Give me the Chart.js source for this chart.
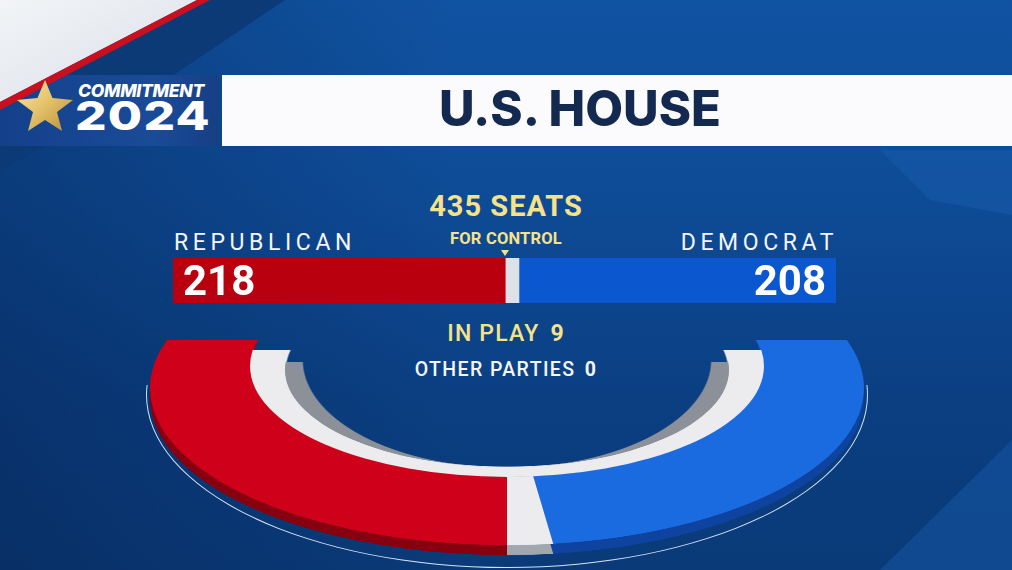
<!DOCTYPE html>
<html>
<head>
<meta charset="utf-8">
<script src="https://cdn.jsdelivr.net/npm/chart.js@4.4.1/dist/chart.umd.min.js"></script>
<style>
  html, body { margin: 0; padding: 0; }
  body {
    width: 1012px; height: 570px; overflow: hidden; position: relative;
    font-family: Roboto, "Open Sans", sans-serif;
    background:
      linear-gradient(90deg, rgba(4, 28, 70, 0.35) 0%, rgba(4, 28, 70, 0) 45%),
      linear-gradient(180deg, #1053a2 0%, #0e4b96 35%, #0b3f82 70%, #0a3a78 100%);
  }
  .abs { position: absolute; }
  .clip { position: absolute; left: 0; width: 1012px; overflow: hidden; }
  .txt { position: absolute; line-height: 1; white-space: nowrap; }
  .ell { position: absolute; border-radius: 50%; box-sizing: border-box; }
  canvas.ring { position: absolute; left: 150px; transform-origin: 50% 50%; }
</style>
</head>
<body>

<!-- background decoration -->
<svg class="abs" style="left:0;top:0" width="1012" height="570">
  <polygon points="880,150 1012,150 1012,215 930,200" fill="#1a5fb0" opacity="0.45"/>
  <polygon points="1012,440 1012,570 880,570" fill="#1557a6" opacity="0.5"/>
  <polygon points="209,0 285,0 160,84 0,170 0,109" fill="#0c3a76"/>
</svg>

<!-- header -->
<div class="abs" style="left:0;top:75px;width:219px;height:71px;background:linear-gradient(90deg,#14408a,#1a4b98 70%,#163f84)"></div>
<div class="abs" style="left:222px;top:75px;width:790px;height:71px;background:#fbfbfd"></div>
<svg class="abs" style="left:0;top:0" width="260" height="150">
  <defs>
    <linearGradient id="tw" x1="0" y1="0" x2="1" y2="1">
      <stop offset="0" stop-color="#f2f4f7"/>
      <stop offset="1" stop-color="#d9dfe7"/>
    </linearGradient>
    <linearGradient id="gold" x1="0" y1="0" x2="1" y2="1">
      <stop offset="0" stop-color="#fbe9ad"/>
      <stop offset="0.5" stop-color="#e3c06a"/>
      <stop offset="1" stop-color="#b98d34"/>
    </linearGradient>
  </defs>
  <polygon points="0,0 197,0 0,102" fill="url(#tw)"/>
  <polygon points="197,0 210,0 0,110 0,102" fill="#c8101e"/>
  <polygon points="45,80 52.5,98 73,100 57,112 62,131 45,120 28,131 33,112 17,100 37.5,98" fill="url(#gold)"/>
</svg>
<div class="txt" style="left:78px;top:82px;font-family:Inter;font-weight:800;font-style:italic;font-size:17.5px;color:#fff;letter-spacing:-0.3px">COMMITMENT</div>
<div class="txt" style="left:75px;top:96px;font-family:Inter;font-weight:800;font-size:40px;color:#fff;letter-spacing:1px;transform:scaleX(1.24);transform-origin:0 0">2024</div>
<div class="txt" style="left:222px;width:716px;text-align:center;top:84px;font-family:Inter;font-weight:800;font-size:49px;color:#14294f">U.S. HOUSE</div>

<!-- seat bar -->
<div class="txt" id="seatsTitle" style="left:0;width:1012px;text-align:center;top:192px;font-weight:700;font-size:29px;color:#f5e28a;letter-spacing:1px"></div>
<div class="txt" style="left:0;width:1012px;text-align:center;top:231px;font-weight:700;font-size:16.5px;color:#f5e28a;letter-spacing:0.2px">FOR CONTROL</div>
<div class="txt" id="repName" style="left:174px;top:231px;font-size:23px;color:#f4f6fb;letter-spacing:4.6px"></div>
<div class="txt" id="demName" style="right:174px;top:231px;font-size:23px;color:#f4f6fb;letter-spacing:4.6px"></div>
<canvas id="bar" class="abs" width="663" height="45" style="left:173px;top:258px"></canvas>
<div id="marker" class="abs" style="top:250px;width:0;height:0;border-left:4px solid transparent;border-right:4px solid transparent;border-top:6px solid #f5e28a"></div>
<div class="txt" id="repVal" style="left:183px;top:260px;font-weight:700;font-size:42px;color:#fff"></div>
<div class="txt" id="demVal" style="right:186px;top:260px;font-weight:700;font-size:42px;color:#fff"></div>

<div class="txt" style="left:0;width:1012px;text-align:center;top:322px;font-weight:500;font-size:23px;color:#f5e28a;letter-spacing:1.2px">IN PLAY <b id="playVal" style="font-weight:700;margin-left:4px"></b></div>
<div class="txt" style="left:0;width:1012px;text-align:center;top:360px;font-weight:500;font-size:19.5px;color:#f4f6fb;letter-spacing:1.4px">OTHER PARTIES <b id="otherVal" style="font-weight:700;margin-left:3px"></b></div>

<!-- half ring -->
<div class="clip" style="top:385px;height:185px">
  <div class="ell" style="left:146px;top:-163px;width:722px;height:346px;border:1.6px solid #d3e2f6"></div>
</div>
<div class="clip" id="wallClip" style="top:345px;height:225px">
  <canvas id="wall" class="ring" width="714" height="714" style="top:-304px;transform:scaleY(0.44)"></canvas>
</div>
<div class="clip" id="faceClip" style="top:340px;height:230px">
  <canvas id="face" class="ring" width="714" height="714" style="top:-309px;transform:scaleY(0.44)"></canvas>
</div>
<div class="clip" id="whiteClip" style="top:350px;height:220px">
  <div class="ell" style="left:250px;top:-95px;width:514px;height:222px;background:#ececef"></div>
</div>
<div class="clip" id="grayClip" style="top:362px;height:208px">
  <div class="ell" style="left:285px;top:-89px;width:444px;height:194px;background:#8c9199"></div>
</div>

<script>
// seat counts
const parties = ['REPUBLICAN', 'IN PLAY', 'DEMOCRAT'];
const seats = [218, 9, 208];
const totalSeats = 435;
const majority = 218;
const otherParties = 0;

const barColors = ['#b8000f', '#dde2e9', '#0a57cf'];
const faceColors = ['#cf0019', '#ececef', '#1b6be0'];
const wallColors = ['#86000f', '#a2a6ad', '#0e44a0'];

// text
document.getElementById('seatsTitle').textContent = totalSeats + ' SEATS';
document.getElementById('repName').textContent = parties[0];
document.getElementById('demName').textContent = parties[2];
document.getElementById('repVal').textContent = seats[0];
document.getElementById('demVal').textContent = seats[2];
document.getElementById('playVal').textContent = seats[1];
document.getElementById('otherVal').textContent = otherParties;

// masks so each ring layer keeps its hole
function ellMask(el, rx, ry, cx, cy) {
  const m = `radial-gradient(${rx}px ${ry}px at ${cx}px ${cy}px, transparent 99.2%, #000 100%)`;
  el.style.webkitMaskImage = m;
  el.style.maskImage = m;
}
ellMask(document.getElementById('faceClip'), 257, 111, 507, 366 - 340);
ellMask(document.getElementById('wallClip'), 257, 111, 507, 366 - 345);
ellMask(document.getElementById('whiteClip'), 222, 97, 507, 370 - 350);
ellMask(document.getElementById('grayClip'), 205, 108, 507, 360 - 362);

const noPlugins = { legend: { display: false }, tooltip: { enabled: false } };

// horizontal stacked bar
const barChart = new Chart(document.getElementById('bar'), {
  type: 'bar',
  data: {
    labels: ['House'],
    datasets: parties.map((p, i) => ({
      label: p,
      data: [seats[i]],
      backgroundColor: barColors[i],
      borderWidth: 0,
      barPercentage: 1,
      categoryPercentage: 1
    }))
  },
  options: {
    indexAxis: 'y',
    responsive: false,
    animation: false,
    layout: { padding: 0 },
    scales: {
      x: { stacked: true, min: 0, max: totalSeats, display: false },
      y: { stacked: true, display: false }
    },
    plugins: noPlugins
  }
});
const mk = document.getElementById('marker');
mk.style.left = (173 + barChart.scales.x.getPixelForValue(majority) - 4) + 'px';

// ring: clockwise from top -> democrat, in play, republican; republican starts at 6 o'clock
const pieSeats = seats.slice().reverse();
const pieLabels = parties.slice().reverse();
const pieRotation = 180 - (pieSeats[0] + pieSeats[1]) / totalSeats * 360;

function ring(id, colors) {
  return new Chart(document.getElementById(id), {
    type: 'pie',
    data: {
      labels: pieLabels,
      datasets: [{
        data: pieSeats,
        backgroundColor: colors.slice().reverse(),
        borderWidth: 0,
        offset: 0,
        hoverOffset: 0
      }]
    },
    options: {
      responsive: false,
      animation: false,
      rotation: pieRotation,
      circumference: 360,
      layout: { padding: 0 },
      plugins: noPlugins
    }
  });
}
ring('wall', wallColors);
ring('face', faceColors);
</script>
</body>
</html>
